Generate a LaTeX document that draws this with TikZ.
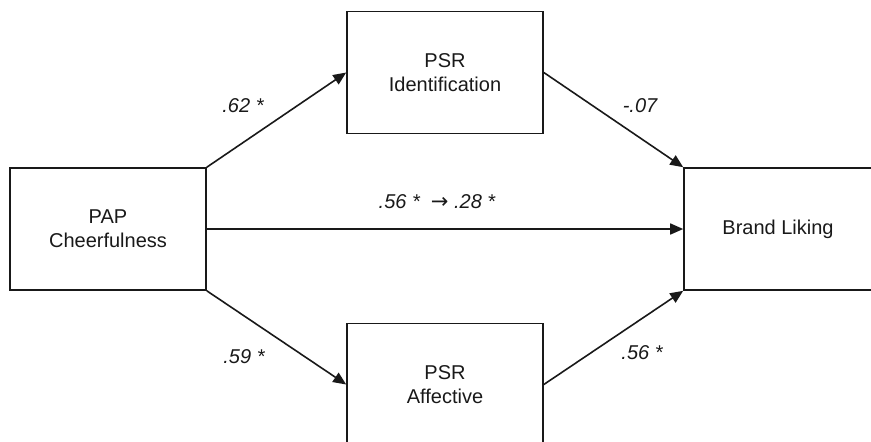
\documentclass[tikz,border=0pt]{standalone}
\usepackage{fontspec}
\setmainfont{Liberation Sans}
\newfontfamily\arrowfont{DejaVu Sans}
\usetikzlibrary{arrows.meta}
\begin{document}
\begin{tikzpicture}[x=0.5pt, y=-0.5pt, line width=0.8pt, color={black!90}, >={Triangle[length=6.5pt,width=5.5pt]},
  main node/.style={rectangle,draw,minimum width=98pt,minimum height=61pt,inner sep=0pt,align=center,font=\fontsize{10}{12}\selectfont},
  coef/.style={font=\fontsize{10}{12}\selectfont\itshape,inner sep=0pt}]
\useasboundingbox (0,0) rectangle (871,441);
\clip (0,0) rectangle (871,441);
\begin{scope}
\node[main node] (pap) at (108,229) {PAP\\Cheerfulness};
\node[main node] (ident) at (445,72.5) {PSR\\Identification};
\node[main node] (affect) at (445,384.5) {PSR\\Affective};
\node[main node, minimum width=94pt] (brand) at (778,229) {Brand Liking};
\end{scope}
\begin{scope}
\draw[->] (pap.north east) -- (ident.west);
\draw[->] (pap.east) -- (brand.west);
\draw[->] (pap.south east) -- (affect.west);
\draw[->] (ident.east) -- (brand.north west);
\draw[->] (affect.east) -- (brand.south west);
\end{scope}
%coefficients
\node[coef] (c1) at (243,106) {.62 *};
\node[coef] (c2) at (640,106) {-.07};
\node[coef] (c3) at (244,357) {.59 *};
\node[coef] (c4) at (642,353) {.56 *};
\node[coef] (c5) at (437,202) {.56 * \ {\upshape\arrowfont\fontsize{10.5}{12}\selectfont →} .28 *};
\end{tikzpicture}
\end{document}
